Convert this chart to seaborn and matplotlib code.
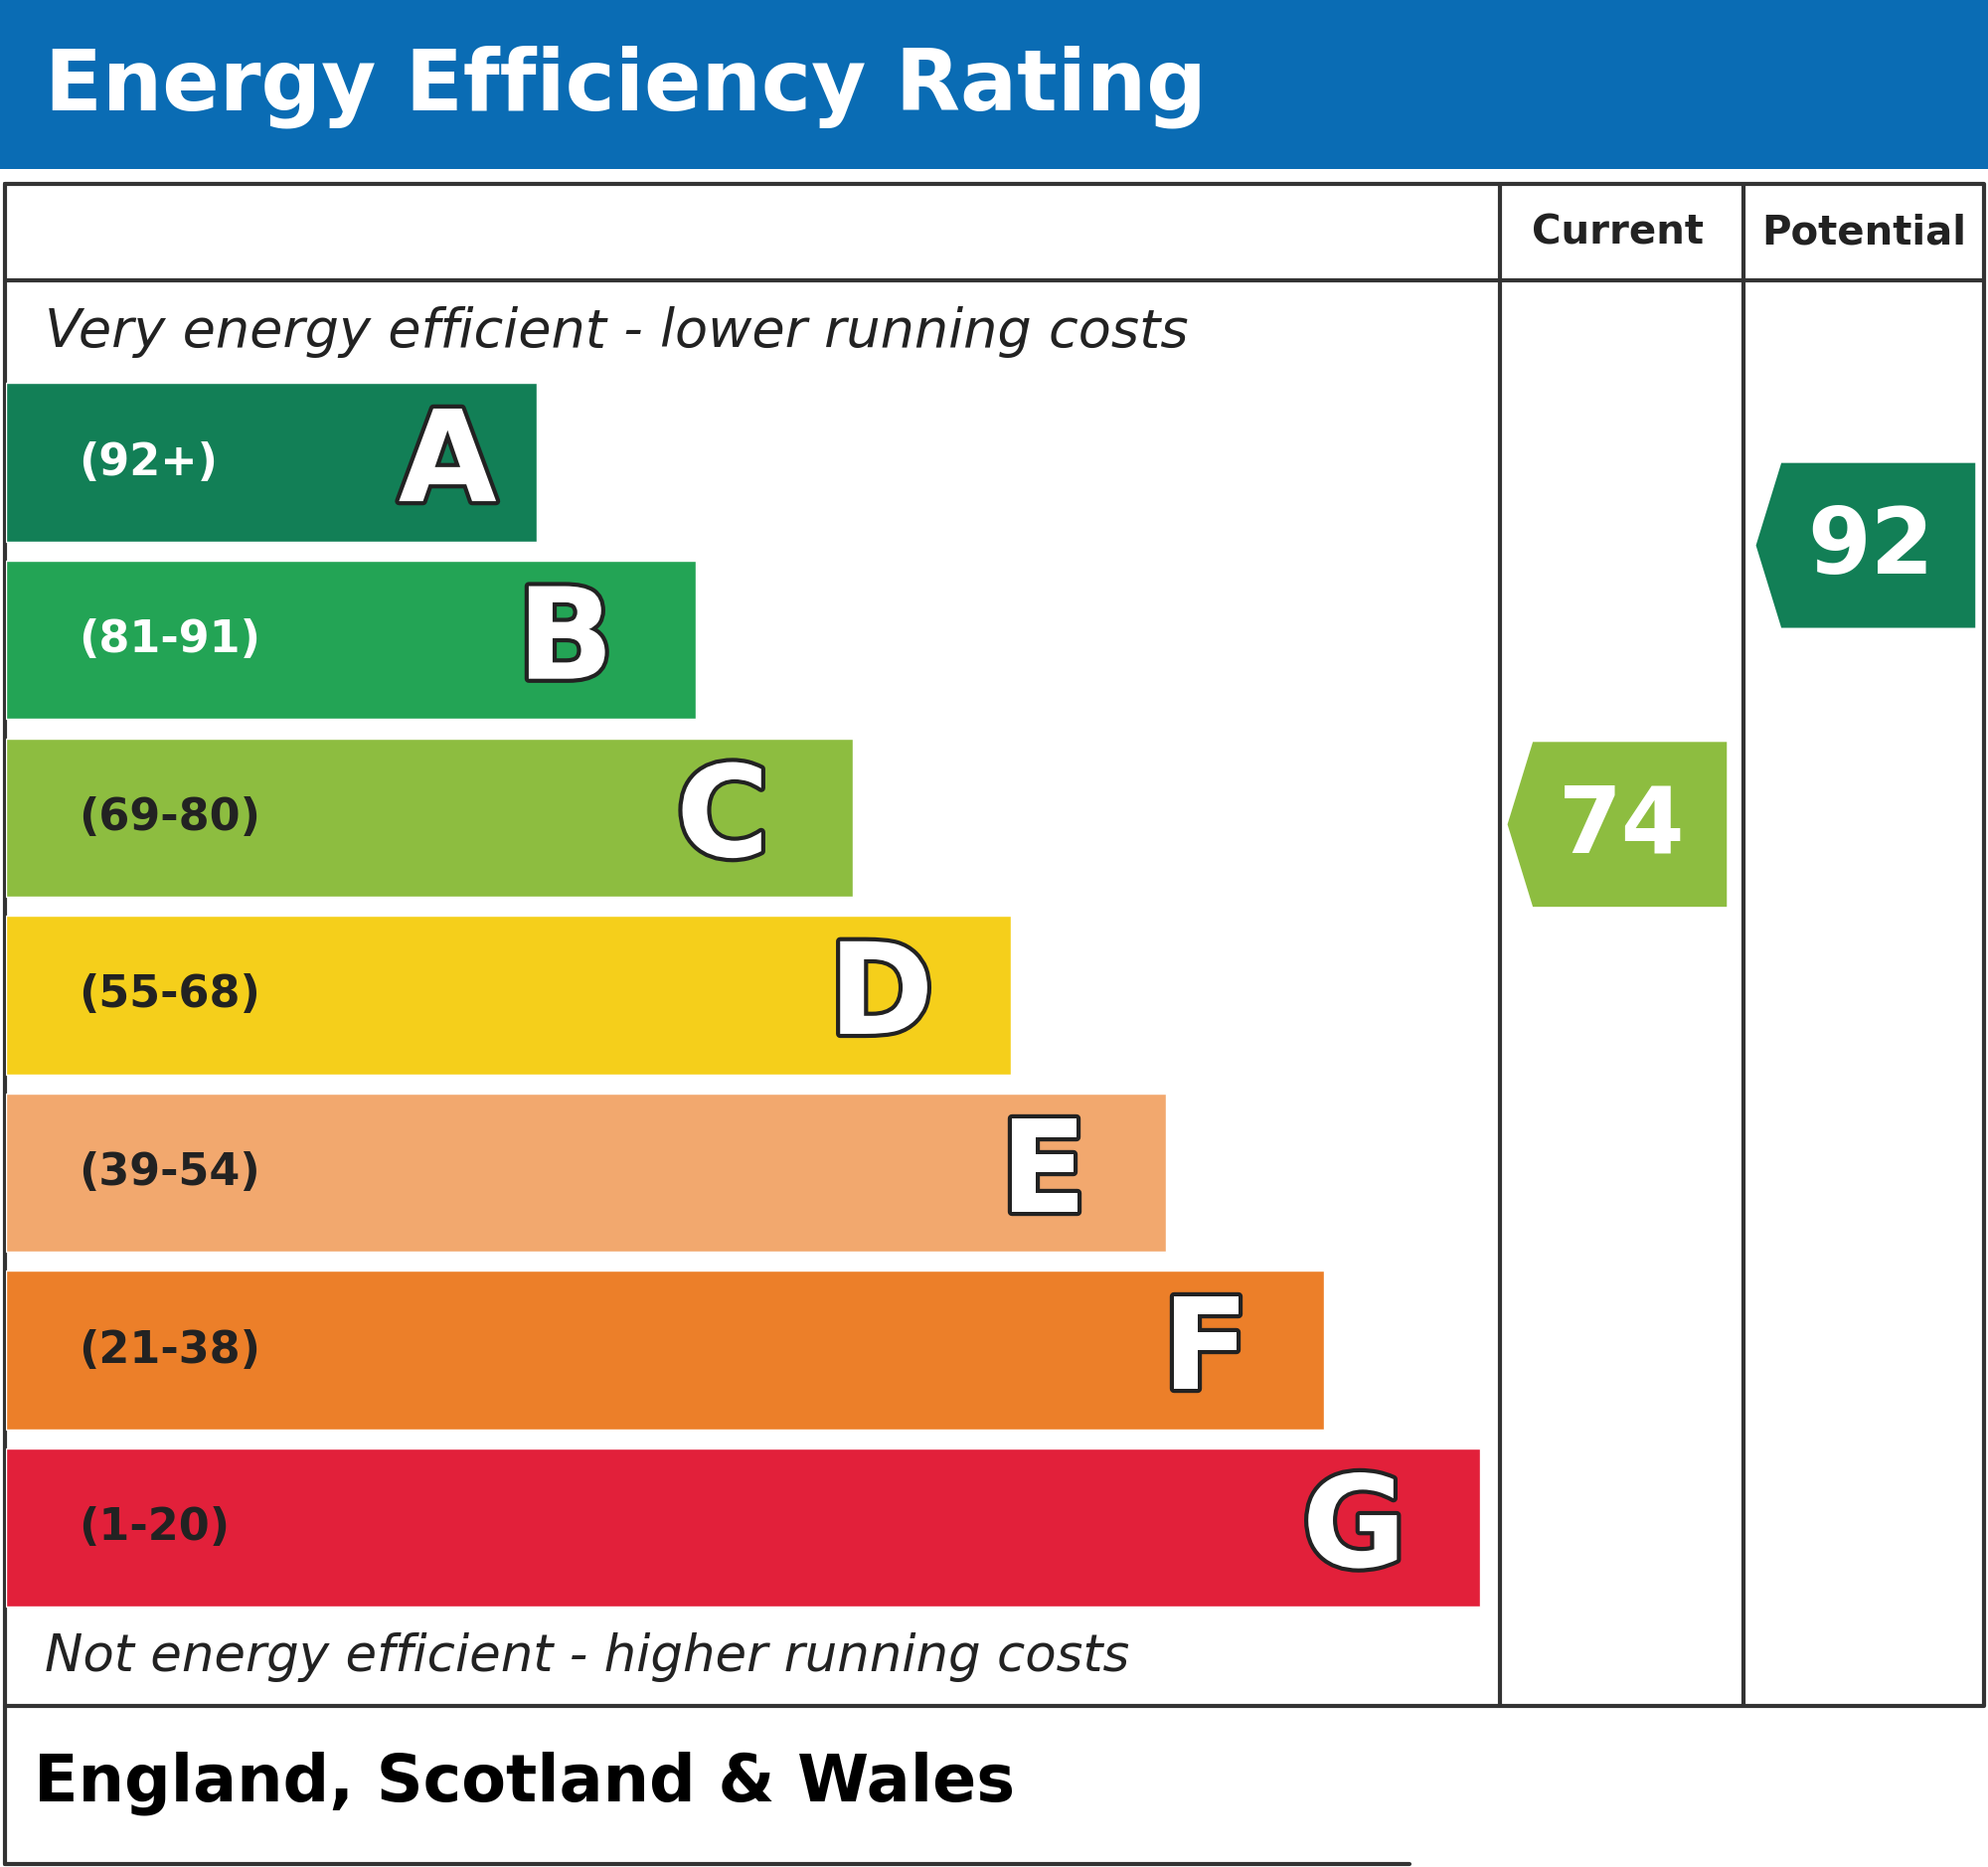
import matplotlib
matplotlib.use("Agg")
import matplotlib.pyplot as plt
import matplotlib.patheffects as pe
from matplotlib.patches import Polygon, Rectangle
import seaborn as sns
import pandas as pd

sns.set_theme(style="white")
plt.rcParams['font.family'] = ['Liberation Sans', 'DejaVu Sans']

bands = ["A", "B", "C", "D", "E", "F", "G"]
ranges = ["(92+)", "(81-91)", "(69-80)", "(55-68)", "(39-54)", "(21-38)", "(1-20)"]
bar_lengths = [418, 544, 668, 792, 915, 1039, 1162]
colors = ["#127f56", "#23a455", "#8dbd40", "#f5cf1b", "#f2a86e", "#ec7f29", "#e2203a"]
range_text_colors = ["white", "white", "#222222", "#222222", "#222222", "#222222", "#222222"]
letter_offsets = [70, 103, 103, 102, 97, 93, 99]
current_value = 74
current_band = "C"
potential_value = 92
potential_band = "A"

W, H = 1568, 1472
fig = plt.figure(figsize=(20, 18.78), dpi=100)
ax = fig.add_axes([0, 0, 1, 1])
ax.set_xlim(0, W); ax.set_ylim(H, 0); ax.axis("off")

ax.add_patch(Rectangle((0, 0), W, 133, color="#0a6cb4", lw=0))
ax.text(35, 68, "Energy Efficiency Rating", color="white", fontsize=61, fontweight="bold", va="center",
        family=["DejaVu Sans"])

lk = dict(color="#333333", lw=3)
ax.plot([4, 1565, 1565, 4, 4], [145, 145, 1345, 1345, 145], **lk)
ax.plot([4, 1565], [221, 221], **lk)
ax.plot([1183, 1183], [145, 1345], **lk)
ax.plot([1375, 1375], [145, 1345], **lk)
ax.plot([4, 1112], [1470, 1470], **lk)
ax.plot([4, 4], [1345, 1470], **lk)
ax.text(1276, 184, "Current", fontsize=29, fontweight="bold", ha="center", va="center", color="#222222",
        family=["DejaVu Sans"])
ax.text(1470, 184, "Potential", fontsize=29, fontweight="bold", ha="center", va="center", color="#222222",
        family=["DejaVu Sans"])
ax.text(35, 262, "Very energy efficient - lower running costs", fontsize=39, style="italic", va="center",
        color="#222222", family=["DejaVu Sans"])
ax.text(35, 1307, "Not energy efficient - higher running costs", fontsize=37, style="italic", va="center",
        color="#222222", family=["DejaVu Sans"])
ax.text(27, 1406, "England, Scotland & Wales", fontsize=47, fontweight="bold", va="center", color="black",
        family=["DejaVu Sans"])

top, bot = 294.5, 1274.5
bax = fig.add_axes([5 / W, 1 - bot / H, 1163 / W, (bot - top) / H])
df = pd.DataFrame({"band": bands, "length": bar_lengths})
sns.barplot(data=df, x="length", y="band", hue="band", palette=colors, width=125 / 140,
            orient="h", legend=False, ax=bax, saturation=1)
bax.set_xlim(0, 1163); bax.set_ylim(6.5, -0.5)
bax.axis("off"); bax.patch.set_alpha(0)
for i, (b, r, L, tc, off) in enumerate(zip(bands, ranges, bar_lengths, range_text_colors, letter_offsets)):
    bax.text(57, i, r, fontsize=32, fontweight="bold", color=tc, va="center", family=["DejaVu Sans"])
    bax.text(L - off, i + 0.02, b, fontsize=92, fontweight="bold", color="white", ha="center", va="center",
             family=["DejaVu Sans"], path_effects=[pe.withStroke(linewidth=6, foreground="#222222")])

def arrow(xl, xr, val, band):
    col = colors[bands.index(band)]
    yc = 430 + (92 - val) * 12.22
    h = 65
    ax.add_patch(Polygon([(xl, yc), (xl + 20, yc - h), (xr, yc - h), (xr, yc + h), (xl + 20, yc + h)],
                         closed=True, color=col, lw=0))
    ax.text((xl + 20 + xr) / 2 - 6, yc + 2, str(val), fontsize=66, fontweight="bold", color="white",
            ha="center", va="center", family=["DejaVu Sans"])

arrow(1189, 1362, current_value, current_band)
arrow(1385, 1558, potential_value, potential_band)

fig.savefig("out.png", dpi=100, facecolor="white")
